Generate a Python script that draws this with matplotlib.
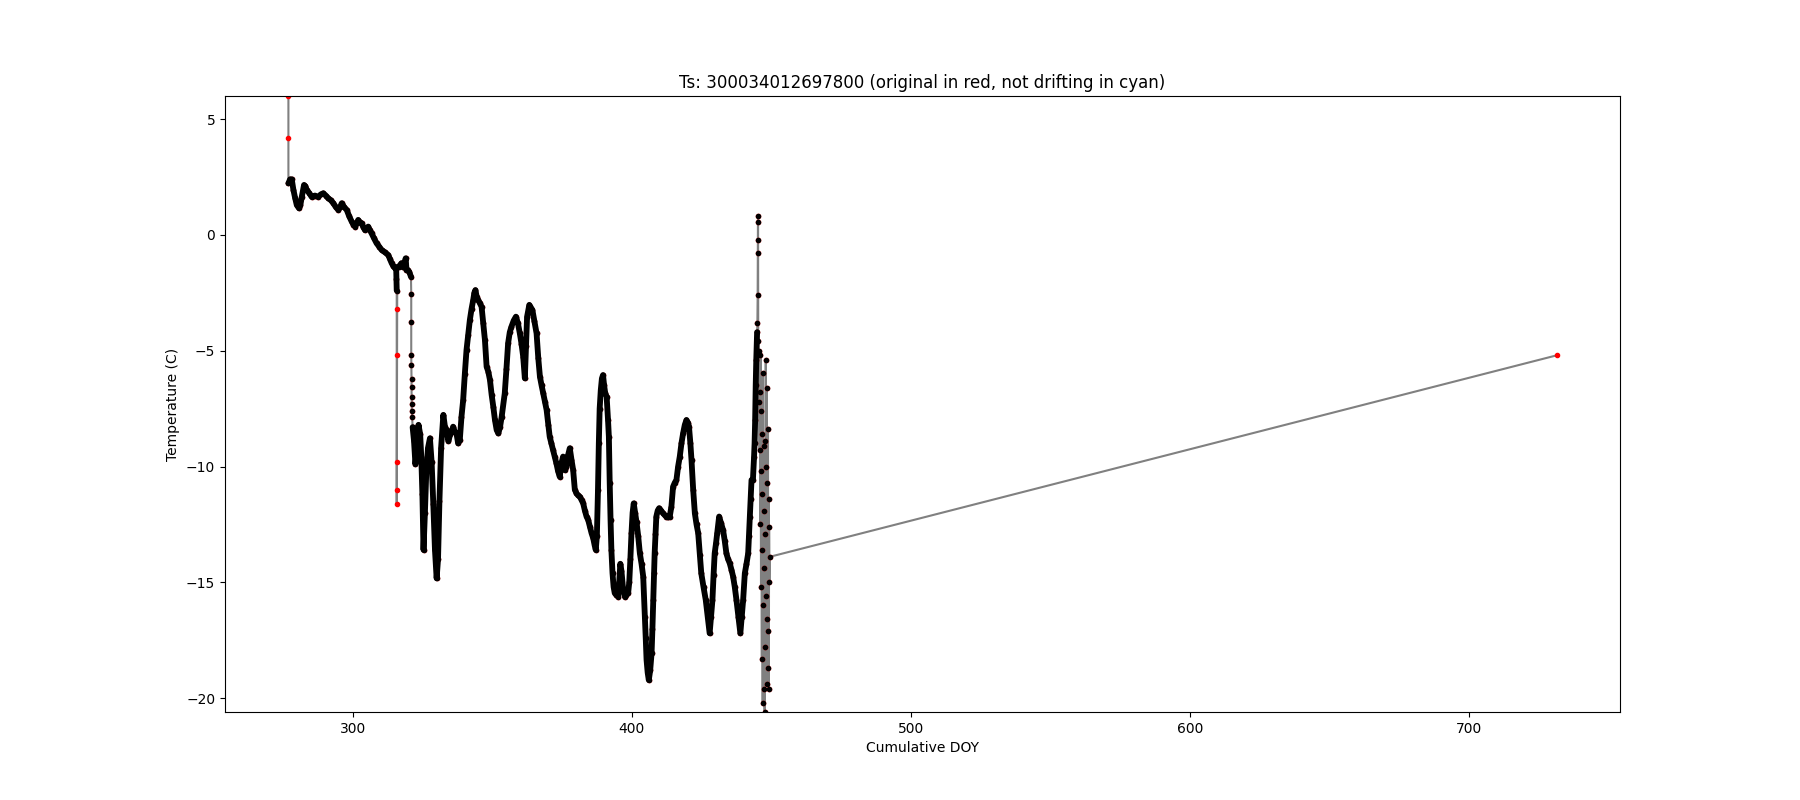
import numpy as np
import matplotlib
matplotlib.use("Agg")
import matplotlib.pyplot as plt

# Original points flagged out (red only) at the start
doy_start = [277.0, 277.0]
ts_start = [6.0, 4.17]

# Main trace, first part
doy_a = [277.0, 277.6, 278.2, 278.8, 279.4, 280.0, 280.8, 281.3, 281.8, 282.6,
         283.1, 283.6, 284.5, 285.3, 286.5, 287.7, 288.6, 289.5, 290.4, 291.3,
         292.2, 293.1, 294.0, 294.9, 295.5, 296.1, 297.0, 297.9, 298.8, 299.7,
         300.3, 300.9, 301.5, 302.0, 302.6, 303.2, 303.8, 304.4, 305.0, 305.6,
         306.2, 306.8, 307.7, 308.6, 309.5, 310.4, 311.6, 312.8, 313.4, 314.0,
         314.6, 315.2, 315.6, 315.7, 315.8]
ts_a = [2.23, 2.40, 2.40, 1.94, 1.60, 1.29, 1.15, 1.30, 1.65, 2.16,
        2.10, 1.94, 1.80, 1.65, 1.70, 1.65, 1.75, 1.80, 1.70, 1.58,
        1.50, 1.37, 1.20, 1.08, 1.20, 1.37, 1.20, 1.08, 0.80, 0.57,
        0.45, 0.36, 0.50, 0.65, 0.55, 0.50, 0.35, 0.21, 0.30, 0.36,
        0.20, 0.07, -0.15, -0.36, -0.50, -0.65, -0.75, -0.87, -1.05, -1.22,
        -1.35, -1.44, -1.40, -1.90, -2.40]

# Spike removed from the record (red only)
doy_spike = [315.8, 315.8, 315.8, 315.8, 315.8]
ts_spike = [-3.21, -5.20, -9.82, -11.01, -11.62]

doy_b = [316.0, 316.5, 317.0, 317.5, 318.1, 318.7, 319.0, 319.3, 319.7, 320.3, 320.9]
ts_b = [-1.40, -1.37, -1.30, -1.22, -1.40, -1.20, -1.01, -1.50, -1.51, -1.60, -1.80]

# Fast drop, single readings
doy_drop = [321.0, 321.0, 321.0, 321.05, 321.1, 321.1, 321.15, 321.2, 321.2, 321.3]
ts_drop = [-2.55, -3.75, -5.18, -5.61, -6.20, -6.55, -6.98, -7.30, -7.60, -7.85]

doy_c = [321.5, 322.0, 322.5, 323.0, 323.6, 324.2, 324.6, 325.0, 325.4, 325.9,
         326.4, 327.0, 327.7, 328.3, 328.9, 329.5, 330.1, 330.6, 331.1, 331.7,
         332.5, 333.1, 333.7, 334.3, 335.0, 335.5, 336.0, 336.6, 337.2, 337.8,
         338.4, 339.0, 339.6, 340.2, 340.8, 341.4, 342.0, 342.6, 343.2, 343.6,
         344.0, 344.5, 345.0, 345.6, 346.2, 346.8, 347.4, 348.0, 348.6, 349.2,
         349.8, 350.4, 351.0, 351.6, 352.2, 352.8, 353.4, 354.5, 355.1, 355.7,
         356.3, 356.9, 357.7, 358.5, 359.2, 359.9, 360.5, 361.1, 361.7, 362.1,
         362.5, 363.3, 364.4, 365.1, 365.9, 366.5, 367.1, 367.7, 368.3, 368.9,
         369.5, 370.1, 370.6, 371.2, 371.8, 372.4, 373.0, 373.6, 374.2, 374.8,
         375.4, 376.0, 376.6, 377.2, 377.8, 378.4, 379.0, 379.6, 380.2, 380.8,
         381.4, 382.0, 382.6, 383.2, 383.8, 384.4, 385.0, 385.6, 386.2, 386.7,
         387.1, 387.5, 387.9, 388.2, 388.5, 388.9, 389.3, 389.7, 390.1, 390.5,
         391.0, 391.5, 391.8, 392.1, 392.4, 392.7, 393.1, 393.5, 393.9, 394.5,
         395.1, 395.5, 395.9, 396.3, 396.9, 397.5, 398.1, 398.7, 399.1, 399.5,
         399.9, 400.3, 400.7, 401.2, 401.7, 402.3, 402.9, 403.5, 404.1, 404.7,
         405.0, 405.3, 405.7, 406.1, 406.6, 407.1, 407.4, 407.7, 408.0, 408.2,
         408.5, 408.8, 409.3, 409.8, 410.5, 411.2, 411.8, 412.4, 413.0, 413.6,
         414.2, 414.8, 415.4, 416.0, 416.6, 417.2, 417.8, 418.4, 419.0, 419.6,
         420.1, 420.5, 421.0, 421.4, 422.0, 422.6, 423.2, 423.8, 424.4, 424.9,
         425.7, 426.5, 427.2, 427.9, 428.4, 428.9, 429.3, 429.7, 430.2, 430.6,
         431.3, 432.0, 432.7, 433.3, 433.9, 434.5, 435.1, 435.7, 436.3, 436.9,
         437.5, 438.2, 438.9, 439.4, 439.9, 440.5, 441.1, 441.7, 442.0, 442.3,
         442.6, 442.9, 443.4, 443.8, 444.0, 444.2, 444.4, 444.6, 444.8, 444.9]
ts_c = [-8.30, -8.90, -9.90, -9.30, -8.20, -8.60, -9.60, -11.20, -13.60, -12.00,
        -10.20, -9.20, -8.78, -9.80, -11.60, -13.60, -14.83, -14.00, -11.50, -9.20,
        -7.77, -8.30, -8.42, -8.90, -8.60, -8.50, -8.28, -8.50, -8.56, -9.00,
        -8.85, -7.85, -7.13, -6.00, -4.97, -4.30, -3.67, -3.20, -2.81, -2.50,
        -2.38, -2.70, -2.81, -2.95, -3.10, -3.80, -4.54, -5.69, -5.90, -6.26,
        -6.90, -7.42, -8.00, -8.42, -8.57, -8.30, -7.85, -6.84, -5.80, -4.68,
        -4.20, -3.96, -3.70, -3.53, -3.80, -4.25, -4.70, -5.25, -6.19, -4.80,
        -3.53, -3.02, -3.24, -3.70, -4.25, -5.30, -6.12, -6.50, -6.84, -7.20,
        -7.56, -8.20, -8.71, -9.00, -9.28, -9.57, -9.86, -10.20, -10.44, -9.86,
        -9.57, -10.15, -10.00, -9.50, -9.21, -9.70, -10.15, -11.00, -11.16, -11.25,
        -11.30, -11.45, -11.59, -11.90, -12.16, -12.31, -12.60, -12.88, -13.10, -13.40,
        -13.60, -13.00, -11.00, -9.00, -7.50, -6.70, -6.20, -6.05, -6.50, -6.84,
        -6.98, -8.00, -8.71, -10.72, -12.30, -13.60, -14.60, -15.20, -15.47, -15.55,
        -15.62, -15.00, -14.20, -14.50, -15.30, -15.62, -15.55, -15.47, -15.00, -14.00,
        -12.88, -12.00, -11.59, -12.00, -12.40, -13.00, -13.75, -14.20, -14.75, -16.48,
        -17.40, -18.35, -18.90, -19.22, -18.80, -18.06, -17.00, -15.76, -14.60, -13.75,
        -12.90, -12.16, -11.90, -11.80, -11.90, -12.02, -12.10, -12.16, -12.20, -12.16,
        -11.73, -10.87, -10.70, -10.58, -10.00, -9.57, -9.00, -8.56, -8.20, -7.99,
        -8.10, -8.28, -9.00, -9.72, -11.00, -12.02, -12.50, -12.88, -13.80, -14.61,
        -15.20, -15.76, -16.50, -17.20, -16.50, -15.76, -14.70, -13.75, -13.30, -12.88,
        -12.16, -12.45, -12.74, -13.20, -13.75, -14.00, -14.18, -14.45, -14.75, -15.20,
        -15.76, -16.50, -17.20, -16.50, -15.76, -14.61, -14.20, -13.75, -13.00, -12.16,
        -11.40, -10.58, -10.58, -9.60, -9.00, -8.00, -6.50, -5.40, -4.60, -4.20]

# Noisy burst at the end of the record
doy_burst = [445.0, 445.1, 445.15, 445.2, 445.2, 445.25, 445.3, 445.5, 445.6, 445.8,
             445.9, 446.0, 446.1, 446.2, 446.3, 446.4, 446.5, 446.6, 446.7, 446.8,
             446.9, 447.0, 447.1, 447.2, 447.3, 447.4, 447.5, 447.6, 447.7, 447.8,
             447.9, 448.0, 448.1, 448.2, 448.3, 448.4, 448.5, 448.6, 448.7, 448.8,
             448.9, 449.0, 449.1, 449.2, 449.3, 449.4]
ts_burst = [-3.82, -2.59, -0.76, -0.22, 0.57, 0.82, -4.60, -7.20, -5.00, -9.30,
            -6.80, -12.50, -5.20, -10.20, -15.20, -7.60, -11.20, -18.30, -8.60, -13.60,
            -20.20, -5.97, -16.00, -9.10, -19.60, -11.90, -14.40, -20.60, -8.90, -17.80,
            -12.90, -5.40, -15.60, -10.00, -19.40, -6.60, -16.60, -10.70, -18.70, -8.40,
            -17.10, -11.40, -19.60, -12.60, -15.00, -13.90]

# Last original reading, far away in time (red only)
doy_end = [731.3]
ts_end = [-5.2]

doy_all = np.concatenate([doy_start, doy_a, doy_spike, doy_b, doy_drop, doy_c, doy_burst, doy_end])
ts_all = np.concatenate([ts_start, ts_a, ts_spike, ts_b, ts_drop, ts_c, ts_burst, ts_end])
doy_ok = np.concatenate([doy_a, doy_b, doy_drop, doy_c, doy_burst])
ts_ok = np.concatenate([ts_a, ts_b, ts_drop, ts_c, ts_burst])

fig, ax = plt.subplots(figsize=(18, 8), dpi=100)
ax.plot(doy_all, ts_all, '-', color='gray', zorder=1)
ax.plot(doy_all, ts_all, 'r.', zorder=2)
# dense hourly record looks like a solid band of dots
for xs, ys in [(doy_a, ts_a), (doy_b, ts_b), (doy_c, ts_c)]:
    ax.plot(xs, ys, '-', color='k', lw=4.2, solid_capstyle='round',
            solid_joinstyle='round', zorder=3)
ax.plot(doy_ok, ts_ok, 'k.', zorder=4)

ax.set_ylim(ts_all.min(), ts_all.max())
ax.set_xlabel('Cumulative DOY')
ax.set_ylabel('Temperature (C)')
ax.set_title('Ts: 300034012697800 (original in red, not drifting in cyan)')
fig.savefig('out.png')
